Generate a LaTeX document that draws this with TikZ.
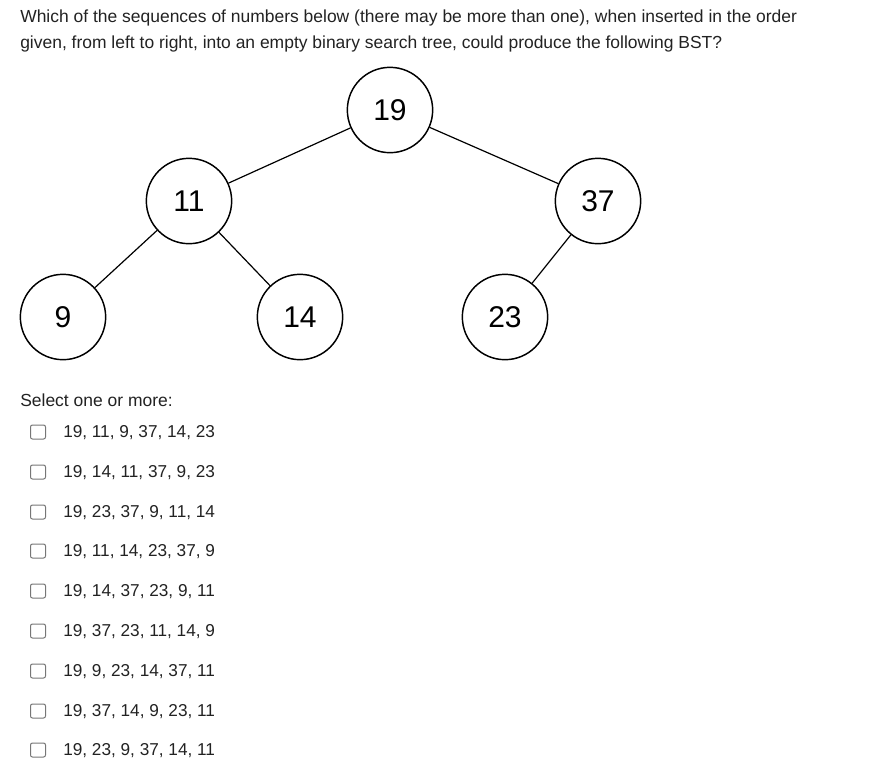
\documentclass[tikz,border=0pt]{standalone}
\usepackage{fontspec}
\setmainfont{Liberation Sans}
\definecolor{qtext}{RGB}{34,34,34}
\definecolor{boxgray}{RGB}{118,118,118}
\usetikzlibrary{positioning}

\begin{document}
\begin{tikzpicture}[x=0.75pt,y=-0.75pt,
    bstnode/.style={draw,circle,line width=1.1pt,inner sep=0pt,minimum size=64pt,
      font=\fontsize{22.5}{24}\selectfont},
    edge/.style={line width=0.9pt},
    qline/.style={anchor=base west,inner sep=0pt,text=qtext,font=\fontsize{13.1}{15}\selectfont},
    optline/.style={anchor=base west,inner sep=0pt,text=qtext,font=\fontsize{12.9}{15}\selectfont},
    chkbox/.style={draw=boxgray,line width=0.75pt,rounded corners=1.5pt,inner sep=0pt,
      minimum width=11.25pt,minimum height=10.5pt}]
  \useasboundingbox (0,0) rectangle (869,769);
  % Question
  \node[qline] (q1) at (20,22) {Which of the sequences of numbers below (there may be more than one), when inserted in the order};
  \node[qline] (q2) at (20,48) {given, from left to right, into an empty binary search tree, could produce the following BST?};
  % Tree
  \node[bstnode] (n19) at (390,110) {19};
  \node[bstnode] (n11) at (189,201) {11};
  \node[bstnode] (n37) at (598,201) {37};
  \node[bstnode] (n9) at (63,317) {9};
  \node[bstnode] (n14) at (300,317) {14};
  \node[bstnode] (n23) at (505,317) {23};
  \draw[edge] (n19) -- (n11);
  \draw[edge] (n19) -- (n37);
  \draw[edge] (n11) -- (n9);
  \draw[edge] (n11) -- (n14);
  \draw[edge] (n37) -- (n23);
  % Answers
  \node[qline] (sel) at (20,406) {Select one or more:};
  \node[chkbox] (cb1) at (38,432) {};
  \node[optline] (opt1) at (63,437) {19, 11, 9, 37, 14, 23};
  \node[chkbox] (cb2) at (38,472) {};
  \node[optline] (opt2) at (63,477) {19, 14, 11, 37, 9, 23};
  \node[chkbox] (cb3) at (38,512) {};
  \node[optline] (opt3) at (63,517) {19, 23, 37, 9, 11, 14};
  \node[chkbox] (cb4) at (38,551) {};
  \node[optline] (opt4) at (63,556) {19, 11, 14, 23, 37, 9};
  \node[chkbox] (cb5) at (38,591) {};
  \node[optline] (opt5) at (63,596) {19, 14, 37, 23, 9, 11};
  \node[chkbox] (cb6) at (38,631) {};
  \node[optline] (opt6) at (63,636) {19, 37, 23, 11, 14, 9};
  \node[chkbox] (cb7) at (38,671) {};
  \node[optline] (opt7) at (63,676) {19, 9, 23, 14, 37, 11};
  \node[chkbox] (cb8) at (38,711) {};
  \node[optline] (opt8) at (63,716) {19, 37, 14, 9, 23, 11};
  \node[chkbox] (cb9) at (38,750) {};
  \node[optline] (opt9) at (63,755) {19, 23, 9, 37, 14, 11};
\end{tikzpicture}
\end{document}
